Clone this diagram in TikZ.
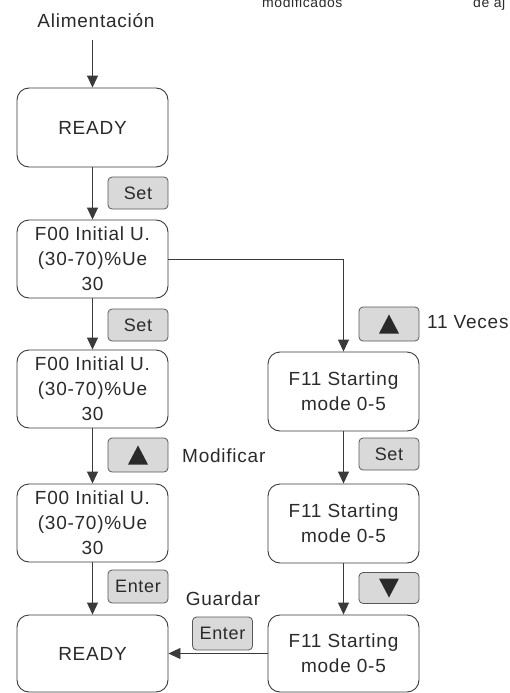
\documentclass[tikz,border=0pt]{standalone}
\usepackage{fontspec}
\setmainfont{Liberation Sans}[LetterSpace=4]
\usetikzlibrary{arrows.meta}
\definecolor{ln}{HTML}{3A3A3A}
\definecolor{btn}{HTML}{D9D9D9}
\definecolor{txt}{HTML}{2A2A2A}
\begin{document}
\begin{tikzpicture}[x=1pt,y=-1pt,
 box/.style={draw=ln, line width=0.9pt, rounded corners=12pt, minimum width=151pt, inner sep=0pt, align=center, text=txt, font=\fontsize{19}{25}\selectfont},
 key/.style={draw=ln!85, line width=0.8pt, fill=btn, rounded corners=4pt, minimum width=60pt, minimum height=32pt, inner sep=0pt, text=txt, font=\fontsize{18}{20}\selectfont},
 lbl/.style={text=txt, font=\fontsize{19}{22}\selectfont, inner sep=0pt},
 cut/.style={text=txt, font=\fontsize{14}{16}\selectfont, inner sep=0pt, anchor=base west},
 arr/.style={draw=ln, line width=0.9pt, -{Triangle[length=12pt,width=11pt]}},
 tri/.style={fill=txt},
]
\useasboundingbox (0,0) rectangle (509,693);
\clip (0,0) rectangle (509,693);

% cut-off texts at top
\node[cut] (mod) at (262,8) {modificados};
\node[cut] (deaj) at (473,8) {de aj};

% title
\node[lbl, anchor=base] (alim) at (96,28) {Alimentación};
\coordinate (alimS) at (92.5,40);

% main column
\node[box, minimum height=79pt] (r1) at (92.5,127.5) {READY};
\node[box, minimum height=78pt] (b1) at (92.5,259) {F00 Initial U.\\(30-70)\%Ue\\30};
\node[box, minimum height=78pt] (b2) at (92.5,389) {F00 Initial U.\\(30-70)\%Ue\\30};
\node[box, minimum height=78pt] (b3) at (92.5,523) {F00 Initial U.\\(30-70)\%Ue\\30};
\node[box, minimum height=77pt] (r2) at (92.5,653.5) {READY};

% right column
\node[box, minimum height=79pt] (f1) at (343.5,391.5) {F11 Starting\\mode 0-5};
\node[box, minimum height=79pt] (f2) at (343.5,523.5) {F11 Starting\\mode 0-5};
\node[box, minimum height=77pt] (f3) at (343.5,653.5) {F11 Starting\\mode 0-5};

% keys
\node[key] (k1) at (138,193) {Set};
\node[key] (k2) at (138,325) {Set};
\node[key, minimum height=34pt] (k3) at (138,455) {};
\node[key, minimum height=33pt] (k4) at (138,586.5) {Enter};
\node[key, minimum height=34pt] (k5) at (389,324) {};
\node[key] (k6) at (389,454) {Set};
\node[key, minimum height=31pt] (k7) at (389,588) {};
\node[key, minimum height=33pt] (k8) at (222.5,633.5) {Enter};

% key glyphs
\fill[tri] ([xshift=-10pt,yshift=-9.5pt]k3.center) -- ([xshift=10pt,yshift=-9.5pt]k3.center) -- ([yshift=9.5pt]k3.center) -- cycle;
\fill[tri] ([xshift=-10pt,yshift=-9.5pt]k5.center) -- ([xshift=10pt,yshift=-9.5pt]k5.center) -- ([yshift=9.5pt]k5.center) -- cycle;
\fill[tri] ([xshift=-10pt,yshift=9.5pt]k7.center) -- ([xshift=10pt,yshift=9.5pt]k7.center) -- ([yshift=-9.5pt]k7.center) -- cycle;

% labels
\node[lbl, anchor=base west] (veces) at (427,328) {11 Veces};
\node[lbl, anchor=base west] (modif) at (182,462) {Modificar};
\node[lbl, anchor=base] (guard) at (223,605) {Guardar};

% connectors
\draw[arr] (alimS) -- (r1.north);
\draw[arr] (r1.south) -- (b1.north);
\draw[arr] (b1.south) -- (b2.north);
\draw[arr] (b2.south) -- (b3.north);
\draw[arr] (b3.south) -- (r2.north);
\draw[arr] (b1.east) -| (f1.north);
\draw[arr] (f1.south) -- (f2.north);
\draw[arr] (f2.south) -- (f3.north);
\draw[arr] (f3.west) -- (r2.east);
\end{tikzpicture}
\end{document}
